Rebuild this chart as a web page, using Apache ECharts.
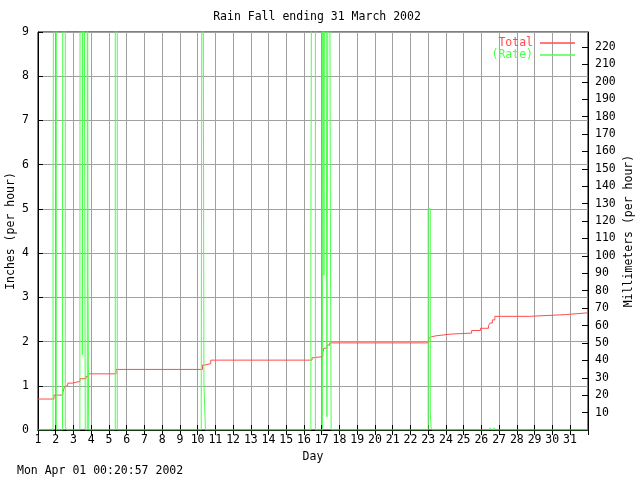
<!DOCTYPE html>
<html>
<head>
<meta charset="utf-8">
<script src="https://cdn.jsdelivr.net/npm/echarts@6/dist/echarts.min.js"></script>
<style>html,body{margin:0;padding:0;background:#fff}#c{width:640px;height:480px}</style>
</head>
<body>
<div id="c"></div>
<script>
// Total rainfall (inches), step series: day of month -> cumulative inches
const totalDays = [1, 1.90, 2.40, 2.45, 2.50, 2.55, 2.68, 2.95, 3.37, 3.70, 3.83, 5.40,
  10.28, 10.42, 10.74, 16.45, 16.55, 17.06, 17.12, 17.30, 17.45,
  23.03, 23.10, 23.20, 23.45, 24.30, 25.45, 25.95, 26.40, 26.50, 26.62, 26.76, 28.70, 30.75, 32.014];
const totalInches = [0.70, 0.79, 0.85, 0.92, 0.98, 1.01, 1.06, 1.10, 1.16, 1.21, 1.27, 1.37,
  1.47, 1.50, 1.58, 1.63, 1.66, 1.75, 1.85, 1.92, 1.97,
  2.07, 2.11, 2.13, 2.17, 2.19, 2.25, 2.30, 2.36, 2.42, 2.49, 2.57, 2.61, 2.65, 2.65];

// Rain rate (inches per hour), step series
const rateDays = [1, 1.846, 1.919, 2.032,
  2.381, 2.426, 2.539, 2.635,
  3.36, 3.384, 3.50, 3.56, 3.666, 3.779, 3.818, 3.86,
  5.357, 5.470,
  10.205, 10.273, 10.357, 10.442, 10.724, 10.78,
  16.389, 16.473, 16.642,
  17.037, 17.122, 17.206, 17.291, 17.40, 17.49, 17.53,
  23.00, 23.12, 23.17, 23.22,
  26.48, 26.54, 26.72, 26.76, 32.014];
const rateInches = [0, 4.5, 20, 0,
  4.5, 20, 0.07, 0,
  0.28, 20, 1.7, 20, 0, 20, 3.36, 0,
  20, 0,
  0.5, 20, 1.06, 0, 0.04, 0,
  4.5, 20, 0,
  20, 3.5, 20, 0.3, 20, 4.5, 0,
  5.0, 0.41, 0.05, 0,
  0.05, 0, 0.05, 0, 0];

const titleText = 'Rain Fall ending 31 March 2002';
const footerText = 'Mon Apr 01 00:20:57 2002';
const MM_PER_INCH = 25.4;
const X_MIN = 1, X_MAX = 32.014, Y_MAX = 9;

const totalData = totalDays.map((d, i) => [d, totalInches[i]]);
const rateData = rateDays.map((d, i) => [d, rateInches[i]]);

const FONT = 'DejaVu Sans Mono';
const FS = 11.5;
const RED = '#ff4c4c', GREEN = '#4cff4c', GRID = '#a0a0a0';

const chart = echarts.init(document.getElementById('c'), null, {renderer: 'canvas'});
chart.setOption({
  animation: false,
  backgroundColor: '#fff',
  textStyle: {fontFamily: FONT, fontSize: FS, color: '#000'},
  title: {
    text: titleText, left: 312, top: 6, textAlign: 'center',
    textStyle: {fontFamily: FONT, fontSize: FS, fontWeight: 'normal', color: '#000'}
  },
  graphic: [{
    type: 'text', left: 17, top: 465,
    style: {text: footerText, font: FS + 'px ' + FONT, fill: '#000'}
  }],
  legend: {
    orient: 'vertical', right: 60, top: 32, align: 'right',
    itemWidth: 35, itemHeight: 1.5, itemGap: 0, icon: 'rect',
    textStyle: {fontFamily: FONT, fontSize: FS, padding: [0, 2, 0, 0]},
    data: [
      {name: 'Total', textStyle: {color: RED}, itemStyle: {color: RED}},
      {name: '(Rate)', textStyle: {color: GREEN}, itemStyle: {color: GREEN}}
    ]
  },
  grid: {left: 38, right: 52, top: 32, bottom: 50, containLabel: false, outerBoundsMode: 'none',
    show: true, borderColor: '#000', borderWidth: 1, backgroundColor: 'transparent'},
  xAxis: [{
    type: 'value', min: X_MIN, max: X_MAX, interval: 1, position: 'bottom',
    name: 'Day', nameLocation: 'middle', nameGap: 21, nameMoveOverlap: false,
    nameTextStyle: {fontFamily: FONT, fontSize: FS, color: '#000'},
    axisLine: {show: true, lineStyle: {color: '#000'}},
    axisTick: {show: true, inside: true, length: 5, lineStyle: {color: '#000'}},
    axisLabel: {margin: 4, color: '#000', fontFamily: FONT, fontSize: FS,
      showMaxLabel: false, formatter: v => (v <= 31 ? String(v) : '')},
    splitLine: {show: true, lineStyle: {color: GRID, width: 1}}
  }, {
    type: 'value', min: X_MIN, max: X_MAX, interval: 1, position: 'top',
    axisLine: {show: true, lineStyle: {color: '#000'}},
    axisTick: {show: true, inside: true, length: 5, lineStyle: {color: '#000'}},
    axisLabel: {show: false}, splitLine: {show: false}
  }],
  yAxis: [{
    type: 'value', min: 0, max: Y_MAX, interval: 1, position: 'left',
    name: 'Inches (per hour)', nameLocation: 'middle', nameGap: 21, nameRotate: 90, nameMoveOverlap: false,
    nameTextStyle: {fontFamily: FONT, fontSize: FS, color: '#000'},
    axisLine: {show: true, lineStyle: {color: '#000'}},
    axisTick: {show: true, inside: true, length: 5, lineStyle: {color: '#000'}},
    axisLabel: {margin: 9, color: '#000', fontFamily: FONT, fontSize: FS},
    splitLine: {show: true, lineStyle: {color: GRID, width: 1}}
  }, {
    type: 'value', min: 0, max: Y_MAX * MM_PER_INCH, interval: 10, position: 'right',
    name: 'Millimeters (per hour)', nameLocation: 'middle', nameGap: 35, nameRotate: 90, nameMoveOverlap: false,
    nameTextStyle: {fontFamily: FONT, fontSize: FS, color: '#000'},
    axisLine: {show: true, lineStyle: {color: '#000'}},
    axisTick: {show: true, inside: true, length: 6, lineStyle: {color: '#000'}},
    axisLabel: {margin: 7, color: '#000', fontFamily: FONT, fontSize: FS,
      showMinLabel: false, showMaxLabel: false,
      formatter: v => (v > 0 && v <= 220 ? String(v) : '')},
    splitLine: {show: false}
  }],
  series: [{
    name: 'Total', type: 'line', step: 'end', data: totalData,
    xAxisIndex: 0, yAxisIndex: 0, showSymbol: false, symbol: 'none', clip: true,
    lineStyle: {color: RED, width: 1}, itemStyle: {color: RED}, z: 3
  }, {
    name: '(Rate)', type: 'line', step: 'end', data: rateData,
    xAxisIndex: 0, yAxisIndex: 0, showSymbol: false, symbol: 'none', clip: true,
    lineStyle: {color: GREEN, width: 1}, itemStyle: {color: GREEN}, z: 4
  }]
});
</script>
</body>
</html>
